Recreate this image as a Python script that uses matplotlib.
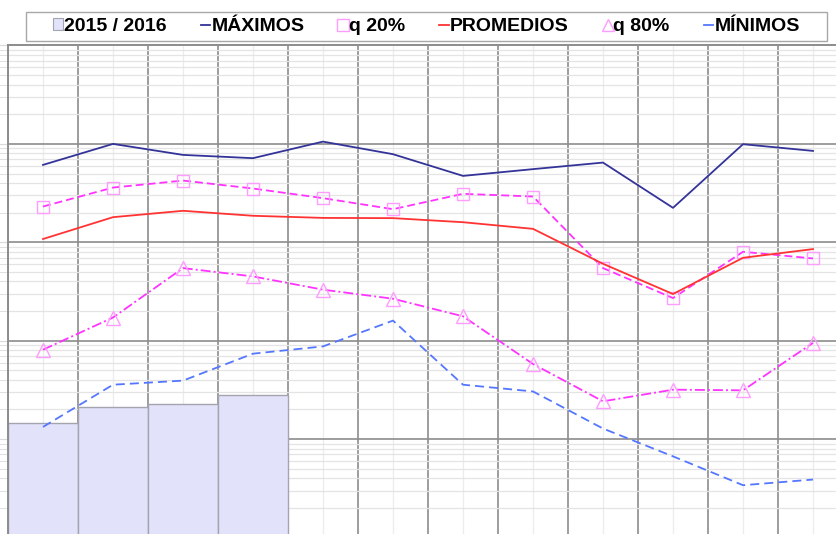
import numpy as np
import matplotlib
matplotlib.use('Agg')
import matplotlib.pyplot as plt
from matplotlib.patches import Rectangle, Patch
from matplotlib.lines import Line2D

# monthly series (log scale)
months = list(range(12))
season_2015_16 = [0.144, 0.209, 0.224, 0.278]
maximos = [61.2, 100, 77.3, 71.6, 105.5, 78.6, 47.3, 55.4, 64.6, 22.4, 99.3, 84.9]
q20 = [23.1, 36.0, 42.4, 35.2, 28.1, 21.7, 31.1, 29.2, 5.47, 2.71, 8.01, 6.85]
promedios = [10.8, 18.0, 20.9, 18.6, 17.7, 17.6, 16.0, 13.7, 6.05, 2.98, 6.96, 8.53]
q80 = [0.81, 1.72, 5.47, 4.50, 3.30, 2.67, 1.77, 0.58, 0.242, 0.318, 0.313, 0.95]
minimos = [0.133, 0.357, 0.393, 0.738, 0.875, 1.60, 0.357, 0.305, 0.128, 0.0668, 0.034, 0.0388]

labels = ['2015 / 2016', 'MÁXIMOS', 'q 20%', 'PROMEDIOS', 'q 80%', 'MÍNIMOS']

W, H = 837, 534
fig = plt.figure(figsize=(W / 100, H / 100), dpi=100)
# plot area runs a bit past the right / bottom edge of the picture
ax = fig.add_axes([8 / W, 1 - 537.5 / H, 840 / W, 492 / H])
ax.set_yscale('log')
ax.set_ylim(0.01, 1000)
ax.set_xlim(-0.5, 11.5)

ax.bar(months[:len(season_2015_16)], season_2015_16, width=1.0, bottom=0.001,
       color='#e2e2fb', edgecolor='#a4a4ae', linewidth=1.0, zorder=2)

lw = 1.3
ax.plot(months, maximos, color='#333399', lw=lw, zorder=3)
ax.plot(months, q20, color='#ff33ff', lw=lw, dashes=(4.4, 2.2),
        marker='s', ms=9, mfc='none', mec='#ff9cff', mew=1.0, zorder=3)
ax.plot(months, promedios, color='#ff3333', lw=lw, zorder=3)
ax.plot(months, q80, color='#ff33ff', lw=lw, dashes=(5.5, 1.7, 1.1, 1.7),
        marker='^', ms=9.5, mfc='none', mec='#ff9cff', mew=1.0, zorder=3)
ax.plot(months, minimos, color='#5577ff', lw=lw, dashes=(5, 2.8), zorder=3)

# grid: dark lines at cell borders and decades, light ones elsewhere
ax.set_xticks(np.arange(-0.5, 12, 1))
ax.set_xticks(months, minor=True)
ax.grid(True, which='major', axis='both', color='#8c8c8c', lw=1.2)
ax.grid(True, which='minor', axis='y', color='#e4e4e4', lw=0.9)
ax.grid(True, which='minor', axis='x', color='#ececec', lw=0.9)
ax.set_axisbelow(True)
ax.tick_params(axis='x', which='both', length=0, labelbottom=False)
ax.tick_params(axis='y', which='both', direction='out', length=7,
               color='#dadada', labelleft=False)
for s in ax.spines.values():
    s.set_color('#8c8c8c')
    s.set_linewidth(1.4)

# legend with its own frame
fig.patches.append(Rectangle((26 / W, 1 - 41 / H), 801 / W, 29 / H,
                             transform=fig.transFigure, facecolor='white',
                             edgecolor='#a8a8a8', lw=1.0, zorder=0))
handles = [
    Patch(facecolor='#e2e2fb', edgecolor='#a4a4ae', lw=0.8),
    Line2D([], [], color='#333399', lw=lw),
    Line2D([], [], ls='none', marker='s', ms=8, mfc='none', mec='#ff9cff'),
    Line2D([], [], color='#ff3333', lw=lw),
    Line2D([], [], ls='none', marker='^', ms=9, mfc='none', mec='#ff9cff'),
    Line2D([], [], color='#5577ff', lw=lw),
]
fig.legend(handles, labels, loc='center', ncol=6, frameon=False,
           bbox_to_anchor=(426.5 / W, 1 - 26.5 / H),
           bbox_transform=fig.transFigure,
           prop={'family': 'Liberation Sans', 'weight': 'bold', 'size': 14},
           handlelength=0.5, handleheight=0.6, handletextpad=0.05,
           columnspacing=1.75, borderpad=0)

fig.savefig('out.png', dpi=100)
